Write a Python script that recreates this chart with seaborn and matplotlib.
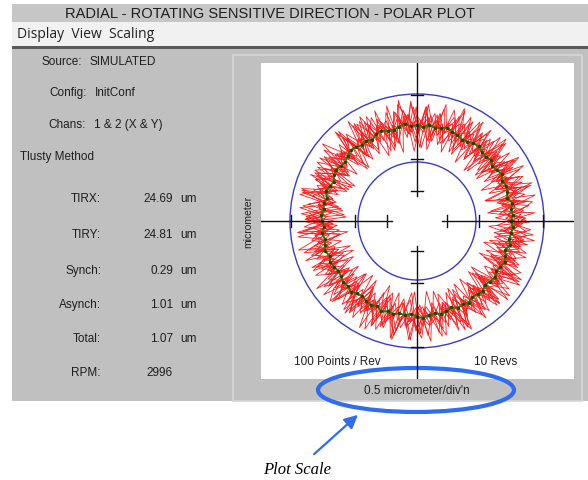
import numpy as np
import pandas as pd
import matplotlib
matplotlib.use("Agg")
import matplotlib.pyplot as plt
import matplotlib.patches as mpatches
import seaborn as sns

# ---- data (radius, in screen pixels from the plot centre) ----
points_per_rev = 100
rev_phase_deg = [0, 1.9, 0.7, 2.8, 1.3, 3.2, 0.4, 2.3, 1.6, 3.0]
revs = [
    [96,104,88,101,91,110,85,99,93,114,87,102,95,83,106,98,117,90,100,86,
     103,92,108,81,97,105,89,112,94,99,84,107,96,119,88,101,92,78,104,97,
     109,86,98,113,91,103,87,100,95,116,83,106,92,99,88,111,96,80,102,94,
     108,89,99,85,115,93,104,90,98,82,107,97,112,88,101,94,86,105,99,118,
     91,97,84,103,95,109,87,100,76,98,106,92,113,89,102,96,84,108,93,100],
    [89,107,95,82,103,97,112,90,101,87,106,94,118,86,99,91,104,79,98,110,
     93,100,85,108,96,114,88,102,92,77,105,97,109,90,100,84,111,95,103,88,
     98,116,91,82,106,99,93,110,86,101,95,120,89,97,104,83,107,92,100,87,
     96,111,85,102,94,79,105,98,113,90,99,88,108,95,101,84,115,93,104,89,
     97,110,82,100,94,106,91,117,86,99,103,88,96,111,92,80,105,98,90,102],
    [102,91,113,87,98,105,84,100,95,109,81,103,97,88,112,94,101,86,107,99,
     92,115,89,104,96,83,106,98,111,91,100,87,116,95,103,80,108,97,92,105,
     88,101,94,110,85,99,107,92,118,90,98,84,103,96,112,87,101,93,79,106,
     99,91,114,86,102,95,108,89,97,116,92,100,83,105,96,110,88,99,93,85,
     104,97,112,90,101,86,107,94,99,119,88,102,95,81,106,98,91,109,87,97],
    [94,86,103,98,116,90,101,84,107,95,100,89,111,93,79,104,97,108,91,99,
     85,102,95,114,88,98,107,92,80,105,99,90,112,86,101,95,118,89,100,93,
     82,106,97,109,90,103,86,99,94,112,88,101,78,105,96,107,91,100,85,114,
     95,103,89,97,110,84,102,94,106,81,99,117,92,101,87,104,96,90,111,85,
     100,93,108,88,97,115,90,103,84,99,95,110,87,101,92,106,79,98,114,91],
    [108,93,99,84,105,97,115,88,102,91,81,106,96,110,89,100,94,117,85,103,
     98,88,109,93,101,79,107,96,112,87,99,104,90,115,94,82,106,98,101,89,
     113,95,86,104,97,108,83,100,92,111,96,85,103,99,117,90,97,88,106,93,
     81,101,96,112,87,104,92,99,108,85,102,95,79,107,98,113,89,100,94,105,
     86,99,116,92,103,88,98,109,82,104,96,113,90,100,87,107,95,119,84,101],
    [91,100,86,111,95,103,89,98,120,92,105,84,99,93,108,87,101,96,113,82,
     100,94,106,89,97,117,91,103,85,98,109,93,81,104,96,112,88,100,95,106,
     84,97,111,90,102,87,99,115,93,105,80,98,107,91,101,86,110,95,99,89,
     106,82,100,97,114,92,103,88,98,110,85,101,94,119,90,97,105,87,100,93,
     112,86,99,104,90,80,107,96,101,114,89,98,93,106,84,102,97,111,92,99],
    [92,118,74,105,83,121,96,71,110,88,115,79,101,69,117,93,84,112,76,108,
     97,120,81,99,73,114,90,106,70,119,86,102,95,77,116,89,109,72,100,122,
     84,95,113,75,104,91,118,80,98,71,111,87,120,94,78,107,99,115,73,92,
     110,82,117,96,70,103,88,121,79,100,112,74,106,93,119,85,97,71,114,90,
     102,77,118,88,109,72,95,116,83,104,98,121,76,111,89,70,107,94,117,80],
    [79,104,117,88,71,112,95,120,83,99,74,116,91,107,77,119,86,101,122,73,
     96,110,80,115,92,70,106,118,87,98,75,113,102,84,121,90,72,109,97,117,
     81,103,114,76,94,120,85,100,73,111,96,118,78,92,107,71,115,89,104,82,
     119,94,74,108,99,116,83,101,70,112,88,121,95,79,105,117,86,97,72,110,
     91,119,77,103,114,85,98,72,120,93,81,108,116,75,101,89,113,78,96,106],
    [108,83,97,121,72,101,89,115,78,106,94,118,71,103,85,112,98,75,120,90,
     81,109,96,117,74,100,87,122,79,113,93,71,106,99,115,82,119,88,102,76,
     111,95,73,116,86,104,120,77,97,109,84,114,70,101,92,118,80,107,95,121,
     74,99,111,87,117,72,103,90,115,79,96,120,83,108,71,113,94,100,118,76,
     89,105,121,73,98,112,85,116,78,102,93,119,70,107,87,114,97,81,110,99],
    [97,71,113,86,119,77,104,92,116,73,100,121,82,95,110,70,114,88,103,117,
     79,98,72,111,90,120,84,107,96,74,118,87,101,114,76,93,121,81,105,89,
     116,71,99,110,83,119,94,75,108,97,113,78,102,122,86,91,70,115,101,84,
     107,118,73,95,112,80,99,120,88,76,104,115,91,72,110,97,121,83,100,86,
     117,74,106,92,119,79,96,113,71,103,88,120,82,99,115,75,108,94,72,112],
]
mean_trace = [
    94,96,95,97,93,95,96,94,97,95, 93,96,94,95,97,96,94,93,95,96,
    98,96,95,97,94,96,95,98,96,94, 95,97,96,93,95,94,96,97,95,93,
    94,96,95,92,94,96,93,95,94,96, 95,93,96,94,95,97,94,96,95,93,
    94,96,95,97,94,93,95,96,94,97, 95,96,94,95,93,96,97,95,94,96,
    95,93,96,95,97,94,95,96,93,95, 96,94,95,97,95,93,96,94,95,96,
]
ring_radii = [59, 127]
tick_radii = [30, 62, 126]

stats_labels = ["TIRX:", "TIRY:", "Synch:", "Asynch:", "Total:", "RPM:"]
stats_values = ["24.69", "24.81", "0.29", "1.01", "1.07", "2996"]
stats_units = ["um", "um", "um", "um", "um", ""]
info_labels = ["Source:", "Config:", "Chans:"]
info_values = ["SIMULATED", "InitConf", "1 & 2 (X & Y)"]

sample_deg = np.arange(points_per_rev) * 360.0 / points_per_rev

rows = []
for k, rev in enumerate(revs):
    ang = np.deg2rad(np.append(sample_deg, 360.0) + rev_phase_deg[k])
    rad = rev + rev[:1]
    for i, r in enumerate(rad):
        rows.append({"rev": k, "x": r * np.cos(ang[i]), "y": r * np.sin(ang[i])})
red_df = pd.DataFrame(rows)

mt = np.array(mean_trace + mean_trace[:1], dtype=float)
ang_c = np.deg2rad(np.append(sample_deg, 360.0))
green_df = pd.DataFrame({"x": mt * np.cos(ang_c), "y": mt * np.sin(ang_c)})

# ---- figure ----
W, H = 588, 481
fig = plt.figure(figsize=(W / 100, H / 100), dpi=100)
bg = fig.add_axes([0, 0, 1, 1])
bg.set_xlim(0, W)
bg.set_ylim(H, 0)
bg.axis("off")

font = "Liberation Sans"
txt = "#1e1e1e"

# window chrome
bg.add_patch(mpatches.Rectangle((12, 5), W - 12, 18, color="#c6c6c6", lw=0))
bg.add_patch(mpatches.Rectangle((12, 23), W - 12, 24, color="#f1f1f1", lw=0))
bg.add_patch(mpatches.Rectangle((12, 47), W - 12, 2.5, color="#5a5a5a", lw=0))
bg.add_patch(mpatches.Rectangle((12, 49.5), W - 12, 352.5, color="#c0c0c0", lw=0))
bg.add_patch(mpatches.Rectangle((233, 56), 349, 346, fill=False, ec="#d6d6d6", lw=1.2))
bg.add_patch(mpatches.Rectangle((261, 64), 313, 316, color="white", lw=0))

bg.text(270, 14, "RADIAL - ROTATING SENSITIVE DIRECTION - POLAR PLOT", ha="center", va="center",
        fontsize=10.5, family=font, color=txt)
bg.text(17, 35, "Display  View  Scaling", ha="left", va="center", fontsize=10, family="Open Sans",
        color="#222222")

# left info panel
info_right = [82, 87, 86]
info_y = [62, 93, 125]
for lab, val, xr, yy in zip(info_labels, info_values, info_right, info_y):
    bg.text(xr, yy, lab, ha="right", va="center", fontsize=8.5, family=font, color=txt)
    bg.text(xr + 8, yy, val, ha="left", va="center", fontsize=8.5, family=font, color=txt)
bg.text(20, 157, "Tlusty Method", ha="left", va="center", fontsize=8.5, family=font, color=txt)

stats_y = [199, 235, 271, 305, 339, 373]
for lab, val, unit, yy in zip(stats_labels, stats_values, stats_units, stats_y):
    bg.text(101, yy, lab, ha="right", va="center", fontsize=8.5, family=font, color=txt)
    bg.text(173, yy, val, ha="right", va="center", fontsize=8.5, family=font, color=txt)
    if unit:
        bg.text(180, yy, unit, ha="left", va="center", fontsize=8.5, family=font, color=txt)

# plot labels
bg.text(248, 222, "micrometer", rotation=90, ha="center", va="center", fontsize=7.5, family=font, color=txt)
bg.text(337, 362, "100 Points / Rev", ha="center", va="center", fontsize=8.5, family=font, color=txt)
bg.text(496, 362, "10 Revs", ha="center", va="center", fontsize=8.5, family=font, color=txt)
bg.text(417, 391, "0.5 micrometer/div'n", ha="center", va="center", fontsize=8.5, family=font, color=txt)

# annotation
ann_blue = "#2f6cf0"
bg.add_patch(mpatches.Ellipse((416, 391), 196, 44, fill=False, ec=ann_blue, lw=3))
bg.annotate("", xy=(360, 414), xytext=(312, 457),
            arrowprops=dict(arrowstyle="-|>", color=ann_blue, lw=1.6, mutation_scale=20))
bg.text(297, 470, "Plot Scale", ha="center", va="center", fontsize=12, family="Liberation Serif",
        style="italic", color="black")

# ---- polar plot area (1 data unit = 1 pixel) ----
ax = fig.add_axes([261 / W, (H - 380) / H, 313 / W, 316 / H])
ax.set_xlim(-156, 157)
ax.set_ylim(-158, 158)
ax.axis("off")

sns.lineplot(data=red_df, x="x", y="y", units="rev", estimator=None, sort=False,
             color="#ff1a1a", lw=0.6, ax=ax, zorder=2)
sns.lineplot(data=green_df, x="x", y="y", estimator=None, sort=False, color="#2e7a00",
             lw=1.4, marker="o", markersize=2.4, markeredgewidth=0, markerfacecolor="#1f4400",
             ax=ax, zorder=3)

for r in ring_radii:
    ax.add_patch(mpatches.Circle((0, 0), r, fill=False, ec="#3a3acc", lw=1.0, zorder=4))

axis_kw = dict(color="#111111", lw=1.0, zorder=5)
ax.plot([-156, -25], [0, 0], **axis_kw)
ax.plot([25, 157], [0, 0], **axis_kw)
ax.plot([0, 0], [25, 158], **axis_kw)
ax.plot([0, 0], [-158, -25], **axis_kw)
for t in tick_radii:
    for s in (-1, 1):
        ax.plot([s * t, s * t], [-6, 6], **axis_kw)
        ax.plot([-6, 6], [s * t, s * t], **axis_kw)

fig.savefig("out.png", dpi=100)
